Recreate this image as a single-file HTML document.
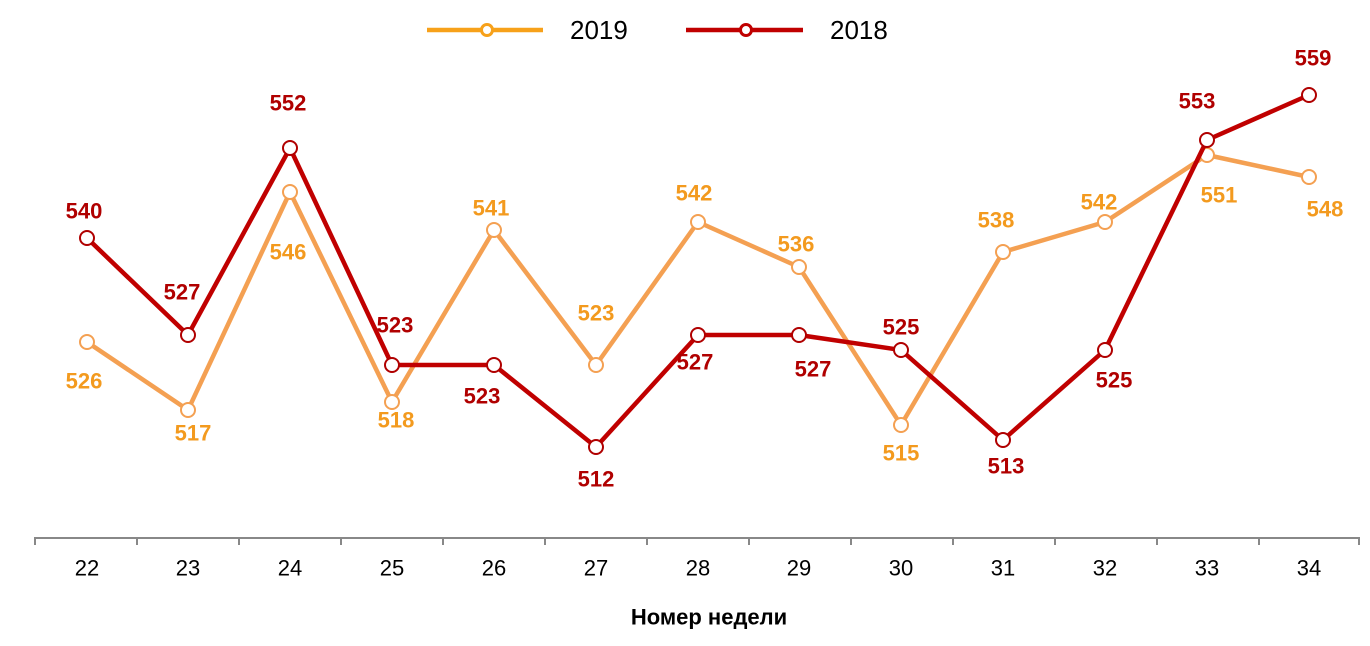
<!DOCTYPE html>
<html><head><meta charset="utf-8"><style>
html,body{margin:0;padding:0;background:#fff;}
svg{display:block;font-family:"Liberation Sans",Arial,sans-serif;}
.l18{fill:#B00000;font-weight:bold;font-size:22px;text-anchor:middle;dominant-baseline:central;}
.l19{fill:#F39A1E;font-weight:bold;font-size:22px;text-anchor:middle;dominant-baseline:central;}
.tk{font-size:22px;text-anchor:middle;dominant-baseline:central;fill:#000;}
</style></head><body>
<svg width="1370" height="646" viewBox="0 0 1370 646">
<line x1="427" y1="30" x2="543" y2="30" stroke="#F7A11A" stroke-width="4.5"/>
<circle cx="487" cy="30" r="5.5" fill="#fff" stroke="#F7A11A" stroke-width="3"/>
<text x="570" y="30" font-size="26" dominant-baseline="central">2019</text>
<line x1="686" y1="30" x2="803" y2="30" stroke="#C00000" stroke-width="4.5"/>
<circle cx="746" cy="30" r="5.5" fill="#fff" stroke="#C00000" stroke-width="3"/>
<text x="830" y="30" font-size="26" dominant-baseline="central">2018</text>
<path d="M35 538H1359" stroke="#888" stroke-width="2"/>
<g stroke="#888" stroke-width="2">
<path d="M35 537v8M137 537v8M239 537v8M341 537v8M443 537v8M545 537v8M647 537v8M749 537v8M851 537v8M953 537v8M1055 537v8M1157 537v8M1259 537v8M1359 537v8"/>
</g>
<g>
<text x="87" y="568" class="tk">22</text><text x="188" y="568" class="tk">23</text><text x="290" y="568" class="tk">24</text><text x="392" y="568" class="tk">25</text><text x="494" y="568" class="tk">26</text><text x="596" y="568" class="tk">27</text><text x="698" y="568" class="tk">28</text><text x="799" y="568" class="tk">29</text><text x="901" y="568" class="tk">30</text><text x="1003" y="568" class="tk">31</text><text x="1105" y="568" class="tk">32</text><text x="1207" y="568" class="tk">33</text><text x="1309" y="568" class="tk">34</text>
</g>
<text x="709" y="617" font-size="22" font-weight="bold" text-anchor="middle" dominant-baseline="central">Номер недели</text>
<polyline fill="none" stroke="#F4A052" stroke-width="4.5" stroke-linejoin="round" points="87,342 188,410 290,192 392,402 494,230 596,365 698,222 799,267 901,425 1003,252 1105,222 1207,155 1309,177"/>
<g fill="#fff" stroke="#F4A052" stroke-width="2">
<circle cx="87" cy="342" r="7"/><circle cx="188" cy="410" r="7"/><circle cx="290" cy="192" r="7"/><circle cx="392" cy="402" r="7"/><circle cx="494" cy="230" r="7"/><circle cx="596" cy="365" r="7"/><circle cx="698" cy="222" r="7"/><circle cx="799" cy="267" r="7"/><circle cx="901" cy="425" r="7"/><circle cx="1003" cy="252" r="7"/><circle cx="1105" cy="222" r="7"/><circle cx="1207" cy="155" r="7"/><circle cx="1309" cy="177" r="7"/>
</g>
<polyline fill="none" stroke="#C00000" stroke-width="4.5" stroke-linejoin="round" points="87,238 188,335 290,148 392,365 494,365 596,447 698,335 799,335 901,350 1003,440 1105,350 1207,140 1309,95"/>
<g fill="#fff" stroke="#B00000" stroke-width="2">
<circle cx="87" cy="238" r="7"/><circle cx="188" cy="335" r="7"/><circle cx="290" cy="148" r="7"/><circle cx="392" cy="365" r="7"/><circle cx="494" cy="365" r="7"/><circle cx="596" cy="447" r="7"/><circle cx="698" cy="335" r="7"/><circle cx="799" cy="335" r="7"/><circle cx="901" cy="350" r="7"/><circle cx="1003" cy="440" r="7"/><circle cx="1105" cy="350" r="7"/><circle cx="1207" cy="140" r="7"/><circle cx="1309" cy="95" r="7"/>
</g>
<text class="l18" x="84" y="211">540</text><text class="l18" x="182" y="292">527</text><text class="l18" x="288" y="103">552</text><text class="l18" x="395" y="325">523</text><text class="l18" x="482" y="396">523</text><text class="l18" x="596" y="479">512</text><text class="l18" x="695" y="362">527</text><text class="l18" x="813" y="369">527</text><text class="l18" x="901" y="327">525</text><text class="l18" x="1006" y="466">513</text><text class="l18" x="1114" y="380">525</text><text class="l18" x="1197" y="101">553</text><text class="l18" x="1313" y="58">559</text>
<text class="l19" x="84" y="381">526</text><text class="l19" x="193" y="433">517</text><text class="l19" x="288" y="252">546</text><text class="l19" x="396" y="420">518</text><text class="l19" x="491" y="208">541</text><text class="l19" x="596" y="313">523</text><text class="l19" x="694" y="193">542</text><text class="l19" x="796" y="244">536</text><text class="l19" x="901" y="453">515</text><text class="l19" x="996" y="220">538</text><text class="l19" x="1099" y="202">542</text><text class="l19" x="1219" y="195">551</text><text class="l19" x="1325" y="209">548</text>
</svg>
</body></html>
